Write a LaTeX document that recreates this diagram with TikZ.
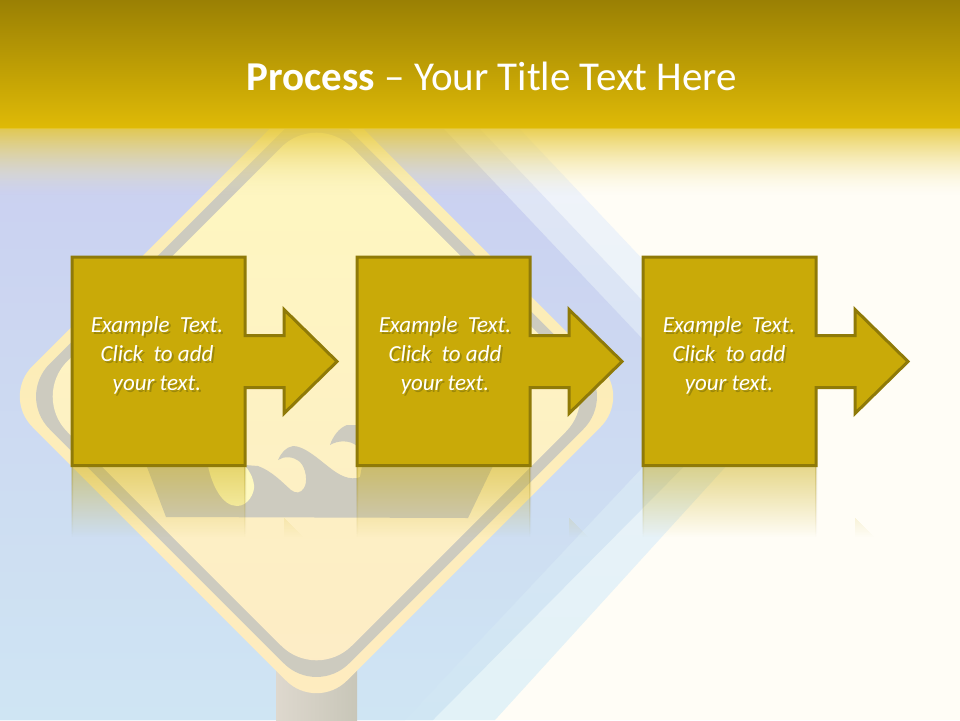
\documentclass[tikz,border=0pt]{standalone}
\usepackage{fontspec}
\setmainfont{Carlito}
\definecolor{boxfill}{HTML}{C9AA08}
\definecolor{boxline}{HTML}{8F7A08}
\definecolor{barlow}{HTML}{DFBA06}
\definecolor{bartop}{HTML}{9A8004}
\definecolor{paper}{HTML}{FFFDF6}
\definecolor{ringgray}{HTML}{CDCBBF}
\definecolor{signcream}{HTML}{FEF9C0}
\definecolor{shadenear}{HTML}{9C880A}
\tikzset{
  stepshape/.style={draw=boxline,line width=3pt,miter limit=10,fill=boxfill},
  bodytext/.style={text=white,font=\fontsize{23}{29}\selectfont\itshape,align=center,inner sep=0pt}
}
\newcommand{\stepoutline}{(72,257) -- (245,257) -- (245,335.5) -- (284,335.5) -- (284,309.5)
  -- (337,361.5) -- (284,413.5) -- (284,387.5) -- (245,387.5) -- (245,465.5) -- (72,465.5) -- cycle}
\newcommand{\shadeline}[1]{\makebox[0pt][l]{\hspace{2pt}\raisebox{-2pt}{\textcolor{shadenear}{#1}}}#1}
\begin{document}
\begin{tikzpicture}[x=1pt,y=-1pt]
  \useasboundingbox (0,0) rectangle (960,720);
  \fill[paper] (0,0) rectangle (960,720);
  % diagonal bands
  \begin{scope}
    \clip (0,0) -- (398,0) -- (781,406) -- (495,720) -- (0,720) -- cycle;
    \shade[top color={rgb,255:red,241;green,243;blue,250},bottom color={rgb,255:red,226;green,242;blue,247}] (0,100) rectangle (960,720);
  \end{scope}
  \begin{scope}
    \clip (0,0) -- (358,0) -- (743,407) -- (433,720) -- (0,720) -- cycle;
    \shade[top color={rgb,255:red,225;green,229;blue,246},bottom color={rgb,255:red,208;green,230;blue,243}] (0,100) rectangle (960,720);
  \end{scope}
  \begin{scope}
    \clip (0,0) -- (322,0) -- (703,403) -- (405,720) -- (0,720) -- cycle;
    \shade[top color={rgb,255:red,202;green,206;blue,240},bottom color={rgb,255:red,207;green,229;blue,243}] (0,100) rectangle (960,720);
  \end{scope}
  % sign post and sign
  \shade[left color={rgb,255:red,222;green,216;blue,206},right color={rgb,255:red,200;green,198;blue,184}] (276,660) rectangle (357,720);
  \shade[rounded corners=43,top color={rgb,255:red,251;green,238;blue,178},bottom color={rgb,255:red,254;green,236;blue,192}]
    (316.5,82) -- (631,396.5) -- (316.5,711) -- (2,396.5) -- cycle;
  \fill[ringgray,rounded corners=46] (316.5,97) -- (616,396.5) -- (316.5,696) -- (17,396.5) -- cycle;
  \shade[rounded corners=50,top color={rgb,255:red,254;green,248;blue,192},middle color=signcream,bottom color={rgb,255:red,253;green,236;blue,198}]
    (316.5,112) -- (601,396.5) -- (316.5,681) -- (32,396.5) -- cycle;
  % wave symbol
  \fill[ringgray] (147,467) -- (166,517) -- (468,518) -- (493,466) -- (362,466) -- (360,477) -- (357,478)
    .. controls (345,480) and (335,472) .. (325,464) .. controls (315,456) and (303,446) .. (293,446)
    .. controls (286,447) and (281,453) .. (278,460) .. controls (284,456) and (293,456) .. (300,462)
    .. controls (306,468) and (308,482) .. (304,488) .. controls (301,493) and (296,494) .. (291,490)
    .. controls (283,483) and (272,471) .. (258,466) -- (245,465) -- cycle;
  \fill[signcream] (208,466) .. controls (212,485) and (222,506) .. (237,506)
    .. controls (248,506) and (255,493) .. (254,485) .. controls (253,477) and (249,470) .. (245,466) -- cycle;
  \fill[ringgray] (357,425) -- (347,425) .. controls (339,428) and (333,436) .. (330,445)
    .. controls (338,440) and (350,440) .. (357,446) -- cycle;
  % top bar
  \shade[top color=bartop,bottom color=barlow] (0,0) rectangle (960,128);
  \foreach \yy in {128,...,195}
  {
    \pgfmathsetmacro{\vv}{0.5*(1-(\yy-128)/68)}
    \pgfmathsetmacro{\aa}{0.68*(1-(\yy-128)/68)^1.6}
    \fill[paper,fill opacity=\vv] (0,\yy) rectangle (960,\yy+1);
    \fill[barlow,fill opacity=\aa] (0,\yy) rectangle (960,\yy+1);
  }
  \node[text=white,inner sep=0pt,font=\fontsize{41}{45}\selectfont] (titletext) at (492,76) {\textbf{Process} -- Your Title Text Here};
  % boxes with their mirror images
  \foreach \xx in {0,285,571}
  {
    \begin{scope}[xshift=\xx pt]
      \foreach \yy in {466,...,536}
      {
        \pgfmathsetmacro{\aa}{0.45*(1-(\yy-466)/71)}
        \fill[boxfill,fill opacity=\aa] (72,\yy) rectangle (245,\yy+1);
        \fill[boxline,fill opacity=\aa*0.5] (71,\yy) rectangle (73,\yy+1) (244,\yy) rectangle (246,\yy+1);
      }
      \foreach \yy in {518,...,536}
      {
        \pgfmathsetmacro{\aa}{0.45*(1-(\yy-466)/71)}
        \fill[boxfill,fill opacity=\aa] (284,\yy) rectangle (285+\yy-518,\yy+1);
      }
      \draw[stepshape] \stepoutline;
    \end{scope}
  }
  \foreach \tx/\nm in {157/a,445/b,729/c}
    \node[bodytext] (text\nm) at (\tx,356.5) {\shadeline{Example\ \ Text.}\\\shadeline{Click\ \ to add}\\\shadeline{your text.}};
\end{tikzpicture}
\end{document}
